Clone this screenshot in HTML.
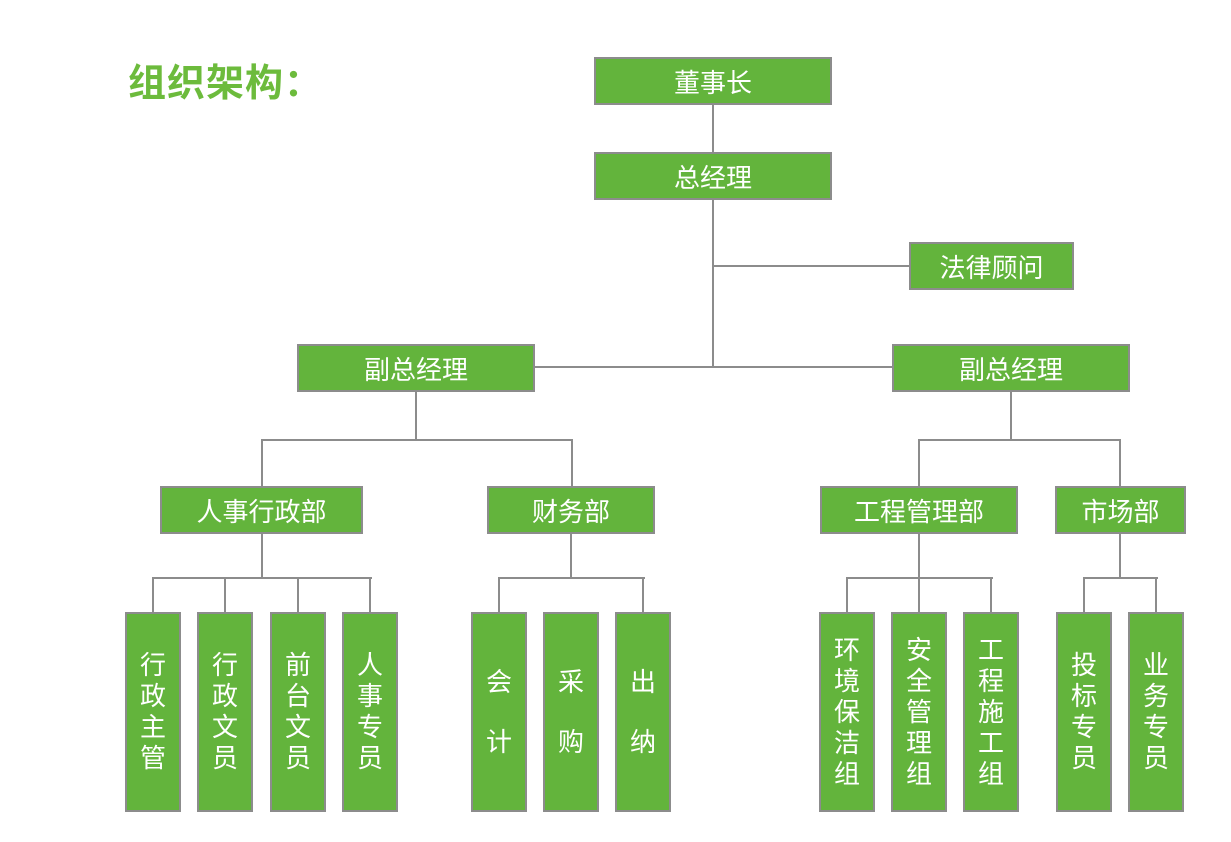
<!DOCTYPE html>
<html><head><meta charset="utf-8"><style>
body{margin:0;width:1231px;height:842px;background:#fff;position:relative;overflow:hidden;font-family:"Liberation Sans","Noto Sans CJK SC",sans-serif;}
.b{position:absolute;background:#63b43c;border:2px solid #8c8c8c;box-sizing:border-box;color:#fff;font-size:26px;display:flex;align-items:center;justify-content:center;}
.v{flex-direction:column;line-height:31px;font-size:26px;}
.l{position:absolute;background:#8c8c8c;}
.h{height:2px}.w{width:2px}
.t{position:absolute;left:128px;top:52px;font-size:38px;font-weight:bold;color:#6cbb3c;letter-spacing:1px;}
</style></head><body>
<div class="t">组织架构：</div>
<!-- lines -->
<div class="l w" style="left:712px;top:104px;height:48px"></div>
<div class="l w" style="left:712px;top:199px;height:169px"></div>
<div class="l h" style="left:713px;top:265px;width:197px"></div>
<div class="l h" style="left:535px;top:366px;width:357px"></div>
<div class="l w" style="left:415px;top:391px;height:50px"></div>
<div class="l h" style="left:261px;top:439px;width:312px"></div>
<div class="l w" style="left:261px;top:439px;height:47px"></div>
<div class="l w" style="left:571px;top:439px;height:47px"></div>
<div class="l w" style="left:1010px;top:391px;height:50px"></div>
<div class="l h" style="left:918px;top:439px;width:203px"></div>
<div class="l w" style="left:918px;top:439px;height:47px"></div>
<div class="l w" style="left:1119px;top:439px;height:47px"></div>
<!-- level 3 connectors -->
<div class="l w" style="left:261px;top:533px;height:45px"></div>
<div class="l h" style="left:152px;top:577px;width:220px"></div>
<div class="l w" style="left:152px;top:577px;height:35px"></div>
<div class="l w" style="left:224px;top:577px;height:35px"></div>
<div class="l w" style="left:297px;top:577px;height:35px"></div>
<div class="l w" style="left:369px;top:577px;height:35px"></div>
<div class="l w" style="left:570px;top:533px;height:45px"></div>
<div class="l h" style="left:498px;top:577px;width:147px"></div>
<div class="l w" style="left:498px;top:577px;height:35px"></div>
<div class="l w" style="left:642px;top:577px;height:35px"></div>
<div class="l w" style="left:918px;top:533px;height:79px"></div>
<div class="l h" style="left:846px;top:577px;width:147px"></div>
<div class="l w" style="left:846px;top:577px;height:35px"></div>
<div class="l w" style="left:990px;top:577px;height:35px"></div>
<div class="l w" style="left:1119px;top:533px;height:45px"></div>
<div class="l h" style="left:1083px;top:577px;width:75px"></div>
<div class="l w" style="left:1083px;top:577px;height:35px"></div>
<div class="l w" style="left:1155px;top:577px;height:35px"></div>
<!-- boxes -->
<div class="b" style="left:594px;top:57px;width:238px;height:48px">董事长</div>
<div class="b" style="left:594px;top:152px;width:238px;height:48px">总经理</div>
<div class="b" style="left:909px;top:242px;width:165px;height:48px">法律顾问</div>
<div class="b" style="left:297px;top:344px;width:238px;height:48px">副总经理</div>
<div class="b" style="left:892px;top:344px;width:238px;height:48px">副总经理</div>
<div class="b" style="left:160px;top:486px;width:203px;height:48px">人事行政部</div>
<div class="b" style="left:487px;top:486px;width:168px;height:48px">财务部</div>
<div class="b" style="left:820px;top:486px;width:198px;height:48px">工程管理部</div>
<div class="b" style="left:1055px;top:486px;width:131px;height:48px">市场部</div>
<div class="b v" style="left:125px;top:612px;width:56px;height:200px"><span>行</span><span>政</span><span>主</span><span>管</span></div>
<div class="b v" style="left:197px;top:612px;width:56px;height:200px"><span>行</span><span>政</span><span>文</span><span>员</span></div>
<div class="b v" style="left:270px;top:612px;width:56px;height:200px"><span>前</span><span>台</span><span>文</span><span>员</span></div>
<div class="b v" style="left:342px;top:612px;width:56px;height:200px"><span>人</span><span>事</span><span>专</span><span>员</span></div>
<div class="b v" style="left:471px;top:612px;width:56px;height:200px;line-height:60px"><span>会</span><span>计</span></div>
<div class="b v" style="left:543px;top:612px;width:56px;height:200px;line-height:60px"><span>采</span><span>购</span></div>
<div class="b v" style="left:615px;top:612px;width:56px;height:200px;line-height:60px"><span>出</span><span>纳</span></div>
<div class="b v" style="left:819px;top:612px;width:56px;height:200px"><span>环</span><span>境</span><span>保</span><span>洁</span><span>组</span></div>
<div class="b v" style="left:891px;top:612px;width:56px;height:200px"><span>安</span><span>全</span><span>管</span><span>理</span><span>组</span></div>
<div class="b v" style="left:963px;top:612px;width:56px;height:200px"><span>工</span><span>程</span><span>施</span><span>工</span><span>组</span></div>
<div class="b v" style="left:1056px;top:612px;width:56px;height:200px"><span>投</span><span>标</span><span>专</span><span>员</span></div>
<div class="b v" style="left:1128px;top:612px;width:56px;height:200px"><span>业</span><span>务</span><span>专</span><span>员</span></div>
</body></html>
